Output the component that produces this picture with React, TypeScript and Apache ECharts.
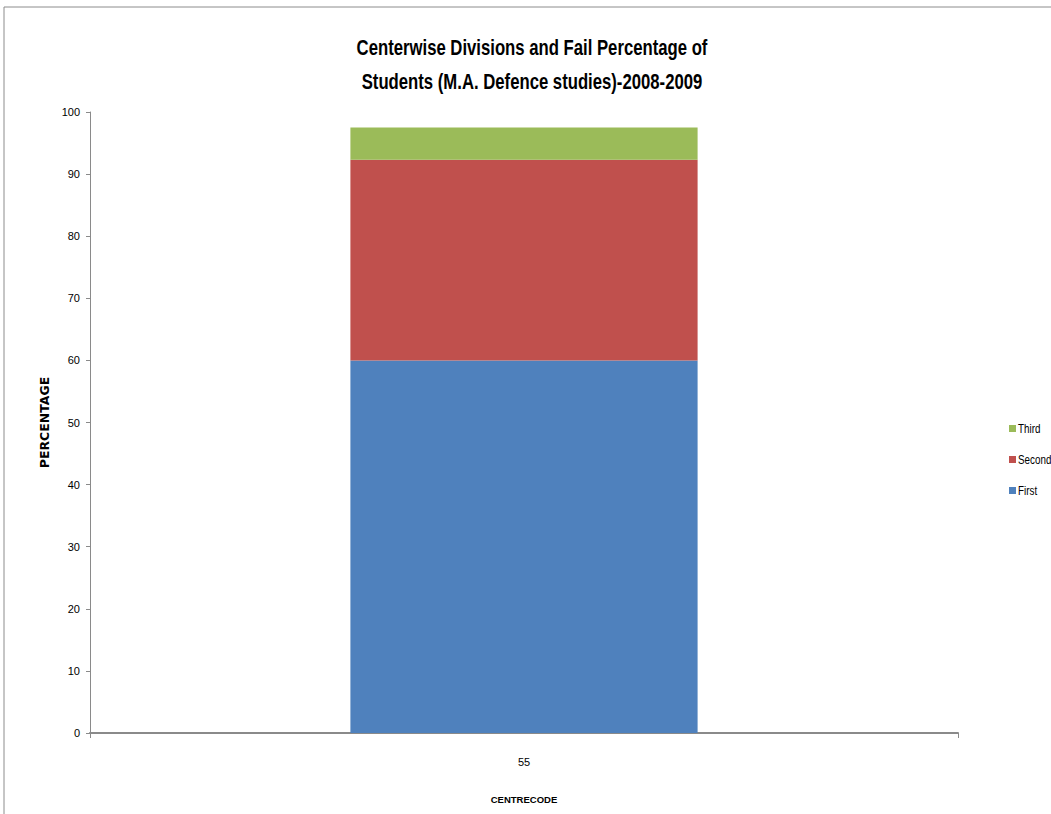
import React, { useEffect, useRef } from "react";
import * as echarts from "echarts";

const categories = ["55"];
const firstValues = [60];
const secondValues = [32.3];
const thirdValues = [5.2];
const yTicks = { min: 0, max: 100, interval: 10 };
const titleLines = [
  "Centerwise Divisions and Fail Percentage of",
  "Students (M.A. Defence studies)-2008-2009",
];
const seriesNames = ["First", "Second", "Third"];
const seriesColors = ["#4f81bd", "#c0504d", "#9bbb59"];
const seriesValues = [firstValues, secondValues, thirdValues];
const legendOrder = ["Third", "Second", "First"];

const FONT = "'Liberation Sans', Arial, sans-serif";

export default function App() {
  const ref = useRef<HTMLDivElement>(null);
  useEffect(() => {
    document.body.style.margin = "0";
    const chart = echarts.init(ref.current!, null, { renderer: "svg" });
    const legendItems: any[] = [];
    legendOrder.forEach((name, i) => {
      const color = seriesColors[seriesNames.indexOf(name)];
      const cy = 429 + i * 31;
      legendItems.push({
        type: "rect",
        shape: { x: 1009, y: cy - 4, width: 7, height: 7 },
        style: { fill: color },
        silent: true,
      });
      legendItems.push({
        type: "text",
        x: 1018,
        y: cy,
        scaleX: 0.82,
        silent: true,
        style: {
          text: name,
          textAlign: "left",
          textVerticalAlign: "middle",
          fontFamily: FONT,
          fontSize: 12,
          fill: "#000",
        },
      });
    });
    chart.setOption({
      animation: false,
      backgroundColor: "#ffffff",
      textStyle: { fontFamily: FONT },
      legend: { show: false },
      graphic: [
        {
          type: "rect",
          shape: { x: 4, y: 7, width: 1200, height: 1000 },
          style: { fill: "none", stroke: "#8c8c8c", lineWidth: 1 },
          silent: true,
        },
        ...titleLines.map((t, i) => ({
          type: "text",
          x: 532,
          y: 47 + i * 34,
          scaleX: 0.76,
          silent: true,
          style: {
            text: t,
            textAlign: "center",
            textVerticalAlign: "middle",
            fontFamily: FONT,
            fontWeight: "bold",
            fontSize: 22,
            fill: "#000",
          },
        })),
        ...legendItems,
      ],
      grid: { left: 90, right: 93, top: 112, bottom: 81 },
      xAxis: {
        type: "category",
        data: categories,
        name: "CENTRECODE",
        nameLocation: "middle",
        nameGap: 61,
        nameTextStyle: { fontFamily: FONT, fontWeight: "bold", fontSize: 9.5, color: "#000" },
        axisLine: { lineStyle: { color: "#8a8a8a", width: 2 } },
        axisTick: { show: true, length: 5, lineStyle: { color: "#8a8a8a" } },
        axisLabel: { fontFamily: FONT, fontSize: 11, color: "#000", margin: 23 },
      },
      yAxis: {
        type: "value",
        min: yTicks.min,
        max: yTicks.max,
        interval: yTicks.interval,
        name: "PERCENTAGE",
        nameLocation: "middle",
        nameGap: 38,
        nameTextStyle: { fontFamily: "'DejaVu Sans', sans-serif", fontWeight: "bold", fontSize: 12.5, color: "#000" },
        axisLine: { show: true, lineStyle: { color: "#8a8a8a", width: 1 } },
        axisTick: { show: true, length: 4, lineStyle: { color: "#8a8a8a" } },
        splitLine: { show: false },
        axisLabel: { fontFamily: FONT, fontSize: 11, color: "#000", margin: 10 },
      },
      series: seriesNames.map((name, i) => ({
        name,
        type: "bar",
        stack: "total",
        data: seriesValues[i],
        barWidth: "40%",
        itemStyle: { color: seriesColors[i] },
      })),
    });
    return () => chart.dispose();
  }, []);
  return <div ref={ref} style={{ width: 1051, height: 814 }} />;
}
